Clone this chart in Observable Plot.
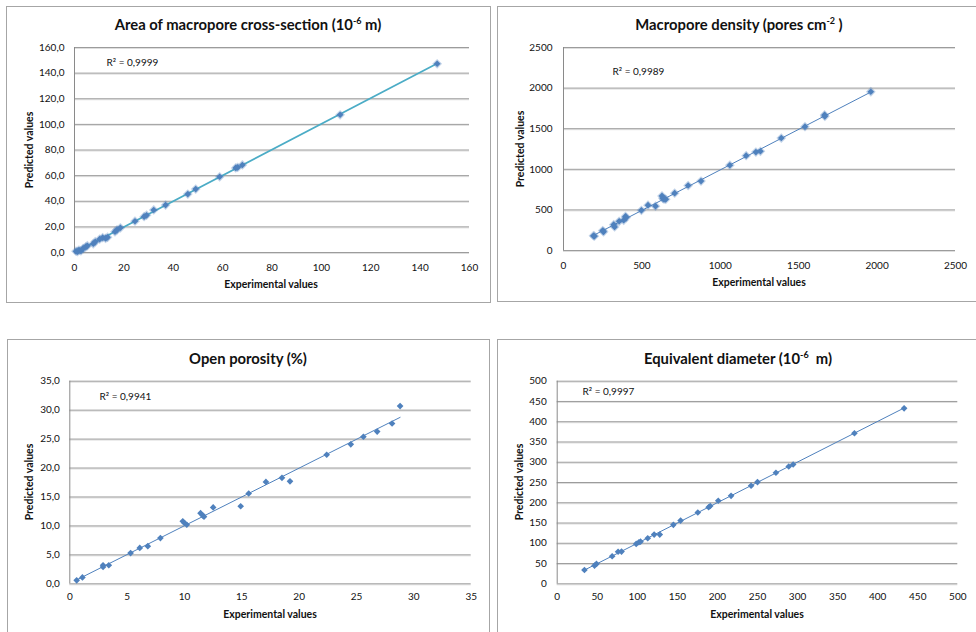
<!DOCTYPE html>
<html>
<head>
<meta charset="utf-8">
<script src="https://cdn.jsdelivr.net/npm/d3@7"></script>
<script src="https://cdn.jsdelivr.net/npm/@observablehq/plot@0.6"></script>
<style>
  html, body { margin: 0; padding: 0; background: #fff; overflow: hidden; }
  #page { position: relative; width: 976px; height: 632px; overflow: hidden; font-family: Lato, "Open Sans", sans-serif; color: #111; }
  .box { position: absolute; border: 1px solid #a6a6a6; box-sizing: border-box; background: #fff; }
  .title { position: absolute; transform: translate(-50%, -50%); white-space: nowrap; font-weight: bold; font-size: 14.8px; }
  .title sup { font-size: 9px; vertical-align: 6px; line-height: 0; }
  .xlab, .ylab { position: absolute; white-space: nowrap; font-weight: bold; font-size: 10.5px; }
  .xlab { transform: translate(-50%, -50%); }
  .ylab { transform: translate(-50%, -50%) rotate(-90deg); }
  .plotwrap { position: absolute; }
</style>
</head>
<body>
<div id="page"></div>
<script>
// ---- Data ----
// Area of macropore cross-section
const areaExp  = [0.6, 1.2, 1.8, 2.6, 3.5, 4.6, 5.2, 7.6, 8.4, 10.2, 11.4, 12.6, 13.4, 16.4, 17.2, 18.6, 24.5, 28.2, 29.2, 32.1, 36.9, 45.9, 49.1, 58.8, 65.3, 66.1, 68.0, 107.6, 146.9];
const areaPred = [1.0, 0.6, 1.9, 1.2, 3.2, 4.4, 5.3, 6.8, 8.4, 10.4, 11.6, 11.0, 11.9, 16.2, 17.6, 19.3, 24.4, 28.0, 29.1, 33.2, 37.0, 45.6, 49.5, 59.1, 66.0, 66.4, 68.3, 107.5, 147.3];
const areaXTicks = [0, 20, 40, 60, 80, 100, 120, 140, 160];
const areaYTicks = [0, 20, 40, 60, 80, 100, 120, 140, 160];
const areaR2 = "R² = 0,9999";

// Macropore density
const densityExp  = [191, 197, 250, 256, 320, 326, 355, 384, 395, 400, 497, 539, 587, 628, 634, 641, 652, 709, 795, 877, 1061, 1165, 1227, 1256, 1389, 1540, 1665, 1667, 1960];
const densityPred = [182, 176, 246, 230, 318, 290, 360, 372, 420, 405, 495, 558, 546, 672, 642, 632, 630, 706, 800, 855, 1050, 1168, 1212, 1222, 1385, 1525, 1670, 1652, 1955];
const densityXTicks = [0, 500, 1000, 1500, 2000, 2500];
const densityYTicks = [0, 500, 1000, 1500, 2000, 2500];
const densityR2 = "R² = 0,9989";

// Open porosity
const porosityExp  = [0.6, 1.1, 2.9, 2.9, 3.4, 5.3, 6.1, 6.8, 7.9, 9.85, 10.0, 10.2, 11.4, 11.6, 11.7, 12.5, 14.9, 15.6, 17.1, 18.5, 19.2, 22.4, 24.5, 25.6, 26.8, 28.1, 28.8];
const porosityPred = [0.6, 1.1, 3.2, 2.9, 3.2, 5.3, 6.2, 6.5, 7.9, 10.8, 10.5, 10.2, 12.2, 11.8, 11.6, 13.2, 13.4, 15.6, 17.6, 18.3, 17.7, 22.3, 24.1, 25.4, 26.3, 27.7, 30.7];
const porosityXTicks = [0, 5, 10, 15, 20, 25, 30, 35];
const porosityYTicks = [0, 5, 10, 15, 20, 25, 30, 35];
const porosityR2 = "R² = 0,9941";

// Equivalent diameter
const diameterExp  = [34, 46.6, 49, 68.6, 76, 80.3, 98.6, 102, 104, 113, 121, 128, 145, 154, 175.5, 189, 191, 201, 217, 242, 250, 273, 289, 294.5, 371, 433];
const diameterPred = [34, 45, 49, 68, 79, 79.5, 98.5, 102.5, 104, 112.5, 121.5, 121.5, 145.5, 156, 176, 189, 192, 205, 217, 242, 251, 274, 289.5, 294.5, 371.5, 433];
const diameterXTicks = [0, 50, 100, 150, 200, 250, 300, 350, 400, 450, 500];
const diameterYTicks = [0, 50, 100, 150, 200, 250, 300, 350, 400, 450, 500];
const diameterR2 = "R² = 0,9997";

const titles = [
  "Area of macropore cross-section (10<sup>-6</sup> m)",
  "Macropore density (pores cm<sup>-2</sup> )",
  "Open porosity (%)",
  "Equivalent diameter (10<sup>-6</sup>&nbsp; m)"
];

const comma1 = d => d.toFixed(1).replace(".", ",");
const intFmt = d => String(d);

const page = document.getElementById("page");

function el(cls, html, style) {
  const d = document.createElement("div");
  d.className = cls;
  d.innerHTML = html;
  Object.assign(d.style, style);
  page.appendChild(d);
  return d;
}

function panel(cfg) {
  el("box", "", {left: cfg.box[0] + "px", top: cfg.box[1] + "px", width: cfg.box[2] + "px", height: cfg.box[3] + "px"});
  const [sx, sy, sw, sh] = cfg.svg;
  const [pl, pt, pr, pb] = cfg.area; // absolute plot area
  const data = cfg.xs.map((x, i) => ({x, y: cfg.ys[i]}));
  const marks = [
    Plot.gridY(cfg.yTicks, {stroke: "#dedede", strokeOpacity: 1, strokeWidth: 1, dy: 1}),
    Plot.gridY(cfg.yTicks, {stroke: "#9c9c9c", strokeOpacity: 1, strokeWidth: 1}),
    Plot.ruleX([cfg.xTicks[0]], {stroke: "#8a8a8a", strokeWidth: 1}),
    Plot.axisY(cfg.yTicks, {tickSize: 0, tickPadding: cfg.yPad, tickFormat: cfg.fmt, label: null}),
    Plot.axisX(cfg.xTicks, {tickSize: 0, tickPadding: cfg.xPad, tickFormat: intFmt, label: null}),
    Plot.linearRegressionY(data, {x: "x", y: "y", ci: 0, stroke: cfg.lineColor, strokeWidth: cfg.lineWidth}),
  ];
  if (cfg.halo) marks.push(Plot.dot(data, {x: "x", y: "y", symbol: "diamond2", r: cfg.r + 1.4, fill: "#4F81BD", fillOpacity: 0.35, stroke: "none"}));
  marks.push(Plot.dot(data, {x: "x", y: "y", symbol: "diamond2", r: cfg.r, fill: "#4F81BD", stroke: "none"}));
  marks.push(Plot.text([cfg.r2], {frameAnchor: "top-left", dx: cfg.r2pos[0] - pl, dy: cfg.r2pos[1] - pt, textAnchor: "start", lineAnchor: "middle", fontSize: 10, text: d => d}));
  const svg = Plot.plot({
    width: sw, height: sh,
    marginLeft: pl - sx, marginTop: pt - sy, marginRight: sx + sw - pr, marginBottom: sy + sh - pb,
    x: {domain: [cfg.xTicks[0], cfg.xTicks[cfg.xTicks.length - 1]]},
    y: {domain: [cfg.yTicks[0], cfg.yTicks[cfg.yTicks.length - 1]]},
    style: {fontFamily: "Lato, 'Open Sans', sans-serif", fontSize: "10px", color: "#111", background: "transparent", overflow: "visible"},
    marks
  });
  const w = el("plotwrap", "", {left: sx + "px", top: sy + "px"});
  w.appendChild(svg);
  el("title", cfg.title, {left: cfg.titlePos[0] + "px", top: cfg.titlePos[1] + "px"});
  el("xlab", "Experimental values", {left: cfg.xlabPos[0] + "px", top: cfg.xlabPos[1] + "px"});
  el("ylab", "Predicted values", {left: cfg.ylabPos[0] + "px", top: cfg.ylabPos[1] + "px"});
}

panel({
  box: [6, 6, 485, 297], svg: [7, 7, 482, 294], area: [74, 47, 469, 252],
  xs: areaExp, ys: areaPred, xTicks: areaXTicks, yTicks: areaYTicks, fmt: comma1,
  yPad: 10, xPad: 11, lineColor: "#4BACC6", lineWidth: 1.7, r: 3.0, halo: true,
  r2: areaR2, r2pos: [106, 62], title: titles[0], titlePos: [248, 24],
  xlabPos: [271, 284], ylabPos: [29, 150]
});
panel({
  box: [497, 6, 520, 296], svg: [498, 7, 478, 293], area: [563, 47, 955, 250],
  xs: densityExp, ys: densityPred, xTicks: densityXTicks, yTicks: densityYTicks, fmt: intFmt,
  yPad: 11, xPad: 11, lineColor: "#4F81BD", lineWidth: 1, r: 3.0, halo: true,
  r2: densityR2, r2pos: [612, 71], title: titles[1], titlePos: [739, 24],
  xlabPos: [759, 282], ylabPos: [520, 149]
});
panel({
  box: [7, 339, 483, 310], svg: [8, 340, 480, 292], area: [69.3, 380.7, 470.7, 583.3],
  xs: porosityExp, ys: porosityPred, xTicks: porosityXTicks, yTicks: porosityYTicks, fmt: comma1,
  yPad: 10, xPad: 9, lineColor: "#4F81BD", lineWidth: 1, r: 3.0, halo: false,
  r2: porosityR2, r2pos: [99, 396.7], title: titles[2], titlePos: [248, 358],
  xlabPos: [270, 614], ylabPos: [29, 482]
});
panel({
  box: [497, 339, 520, 310], svg: [498, 340, 478, 292], area: [556.7, 380.7, 957.3, 583.3],
  xs: diameterExp, ys: diameterPred, xTicks: diameterXTicks, yTicks: diameterYTicks, fmt: intFmt,
  yPad: 10.5, xPad: 9, lineColor: "#4F81BD", lineWidth: 1, r: 3.0, halo: false,
  r2: diameterR2, r2pos: [582, 391.7], title: titles[3], titlePos: [738, 358],
  xlabPos: [757, 614], ylabPos: [519, 482]
});
</script>
</body>
</html>
